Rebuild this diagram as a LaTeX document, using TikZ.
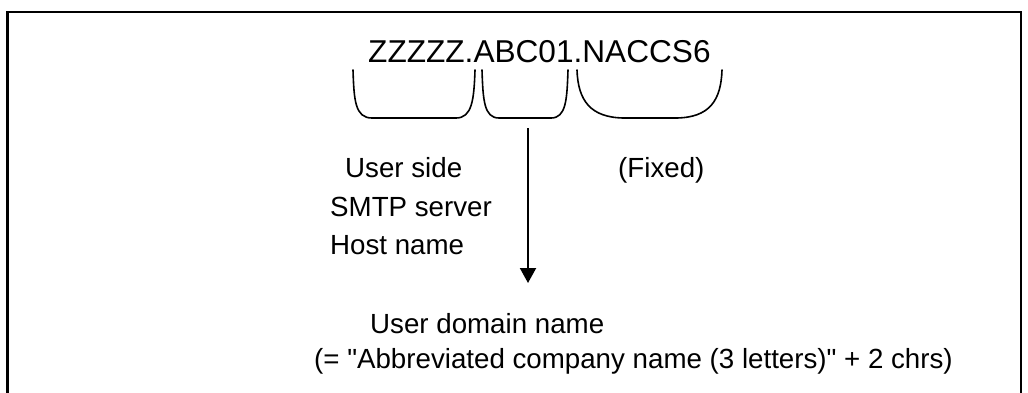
\documentclass[tikz,border=0pt]{standalone}
\usepackage{fontspec}
\setmainfont{Liberation Sans}[Ligatures=TeXOff]
\usetikzlibrary{arrows.meta}
\begin{document}
\begin{tikzpicture}[x=1pt,y=-1pt,
  lbl/.style={anchor=base west,inner sep=0pt,font=\fontsize{27.7}{33}\selectfont},
  ttl/.style={anchor=base west,inner sep=0pt,font=\fontsize{31.6}{38}\selectfont},
  brk/.style={line width=1.6pt,line cap=round},
  arr/.style={line width=2pt,-{Triangle[width=16pt,length=15pt]}}]
\useasboundingbox (0,0) rectangle (1028,392);
\draw[line width=2.2pt] (7.5,400) -- (7.5,12) -- (1021,12) -- (1021,400);
\node[ttl] (title) at (368,62) {ZZZZZ.ABC01.NACCS6};
% brackets
\draw[brk] (353,70) .. controls (354,100) and (355,118) .. (372,118) -- (456,118)
  .. controls (472,118) and (474,100) .. (475,70);
\draw[brk] (482,70) .. controls (483,100) and (484,118) .. (499,118) -- (551,118)
  .. controls (566,118) and (567,100) .. (568,70);
\draw[brk] (577,70) .. controls (578,100) and (590,118) .. (625,118) -- (675,118)
  .. controls (710,118) and (721,100) .. (722,70);
\coordinate (atop) at (528,128);
\coordinate (abot) at (528,283);
\draw[arr] (atop) -- (abot);
\node[lbl] (us) at (345,177) {User side};
\node[lbl] (smtp) at (330,216) {SMTP server};
\node[lbl] (host) at (330,254) {Host name};
\node[lbl] (fixed) at (618,177) {(Fixed)};
\node[lbl] (udn) at (370,333) {User domain name};
\node[lbl] (abbr) at (314,368) {(= "Abbreviated company name (3 letters)" + 2 chrs)};
\end{tikzpicture}
\end{document}
